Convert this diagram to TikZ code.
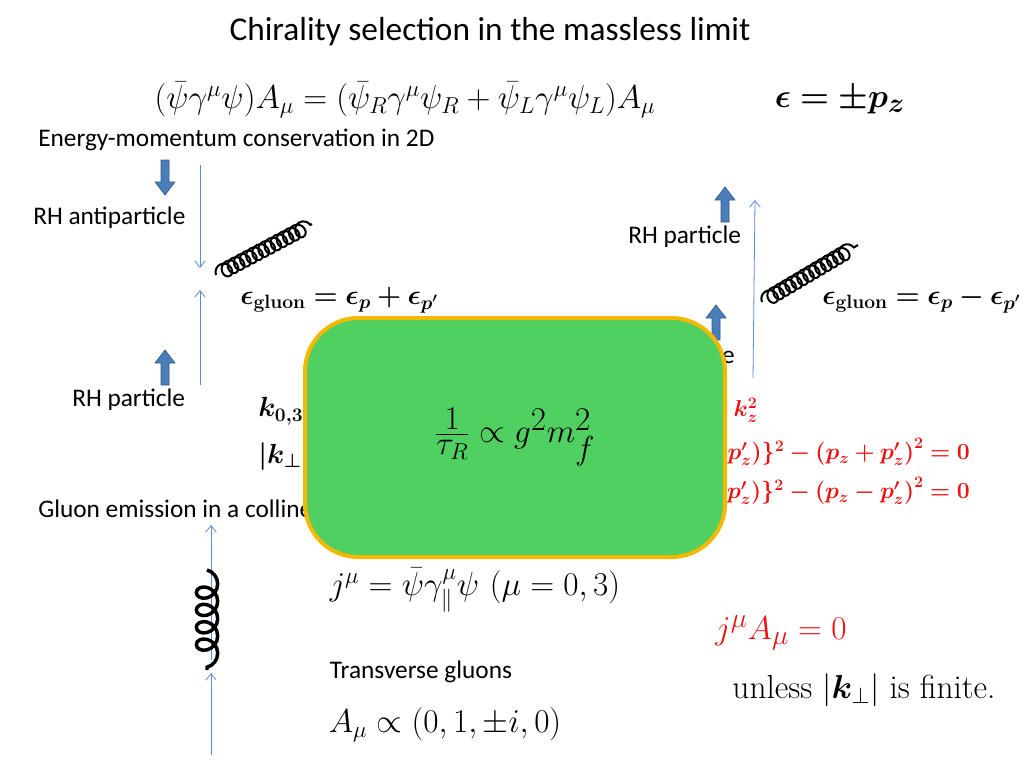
\documentclass[tikz,border=0pt]{standalone}
\usepackage{fontspec}
\usepackage{amsmath,bm}
\setsansfont{Carlito}
\usetikzlibrary{decorations.pathmorphing,arrows.meta}
\definecolor{barrow}{HTML}{4A7EBB}
\definecolor{thinl}{HTML}{5B8BD0}
\definecolor{boxg}{HTML}{50D060}
\definecolor{boxo}{HTML}{F5B800}
\definecolor{redt}{HTML}{EE1111}
\tikzset{
  lbl/.style={font=\sffamily\fontsize{19}{22}\selectfont,inner sep=0pt},
  eq/.style={font=\fontsize{26}{30}\selectfont,inner sep=0pt},
  eqs/.style={font=\fontsize{19.5}{23}\selectfont,inner sep=0pt},
  eqr/.style={font=\fontsize{18}{22}\selectfont,inner sep=0pt,text=redt},
  thin line/.style={draw=thinl,line width=0.6pt,-{Straight Barb[length=5pt,width=8pt]}},
  gluon/.style={decorate,decoration={coil,aspect=0.9,segment length=5.2pt,amplitude=5.5pt},line width=1.5pt},
  gluonb/.style={decorate,decoration={coil,aspect=0.9,segment length=13pt,amplitude=8pt},line width=2.6pt},
}
\newcommand{\bup}[2]{\fill[barrow,draw=barrow!70!black,line width=0.5pt] (#1-4,#2) -- (#1+4,#2) -- (#1+4,#2-22) -- (#1+10,#2-22) -- (#1,#2-35) -- (#1-10,#2-22) -- (#1-4,#2-22) -- cycle;}
\newcommand{\bdown}[2]{\fill[barrow,draw=barrow!70!black,line width=0.5pt] (#1-4,#2) -- (#1+4,#2) -- (#1+4,#2+22) -- (#1+10,#2+22) -- (#1,#2+35) -- (#1-10,#2+22) -- (#1-4,#2+22) -- cycle;}
\begin{document}
\begin{tikzpicture}[x=0.75pt,y=-0.75pt]
\useasboundingbox (0,0) rectangle (1024,768);
\node[lbl,font=\sffamily\fontsize{25}{30}\selectfont] (title) at (490,32) {Chirality selection in the massless limit};
\node[eq] (maineq) at (405,100) {$(\bar\psi\gamma^\mu\psi)A_\mu=(\bar\psi_R\gamma^\mu\psi_R+\bar\psi_L\gamma^\mu\psi_L)A_\mu$};
\node[eq,font=\fontsize{27.5}{32}\selectfont] (eps) at (840,100) {$\bm{\epsilon=\pm p_z}$};
\node[lbl,anchor=west] (emc) at (38,140) {Energy-momentum conservation in 2D};
% block arrows
\bdown{165}{160}
\bup{165}{385}
\bup{725}{222}
\bup{716}{340}
% labels
\node[lbl,anchor=west] (rha) at (33,218) {RH antiparticle};
\node[lbl,anchor=west] (rhp1) at (628,237) {RH particle};
\node[lbl,anchor=west] (rhp2) at (72,400) {RH particle};
\node[lbl,anchor=east] (rhp3) at (735,357) {RH particle};
\node[lbl,anchor=west] (glem) at (38,509) {Gluon emission in a collinear direction};
% thin lines
\coordinate (a1) at (200,165); \coordinate (a2) at (200,268);
\coordinate (b1) at (200,385); \coordinate (b2) at (200,290);
\coordinate (c1) at (753,378); \coordinate (c2) at (755,200);
\coordinate (d1) at (211,755); \coordinate (d2) at (211,673);
\coordinate (e1) at (211,660); \coordinate (e2) at (211,525);
\draw[thin line] (a1) -- (a2);
\draw[thin line] (b1) -- (b2);
\draw[thin line] (c1) -- (c2);
\draw[thin line] (d1) -- (d2);
\draw[thin line] (e1) -- (e2);
% gluons
\coordinate (g1a) at (216,275); \coordinate (g1b) at (312,224);
\coordinate (g2a) at (762,302); \coordinate (g2b) at (858,245);
\coordinate (g3a) at (207,570); \coordinate (g3b) at (207,670);
\draw[gluon] (g1a) -- (g1b);
\draw[gluon] (g2a) -- (g2b);
\draw[gluonb] (g3a) -- (g3b);
\node[eqs,anchor=west] (eg1) at (240,300) {$\bm{\epsilon_{\mathbf{gluon}}=\epsilon_p+\epsilon_{p'}}$};
\node[eqs,anchor=west] (eg2) at (822,300) {$\bm{\epsilon_{\mathbf{gluon}}=\epsilon_p-\epsilon_{p'}}$};
% hidden texts
\node[eq,font=\fontsize{22}{26}\selectfont,anchor=west] (k03) at (258,412) {$\bm{k_{0,3}=\epsilon_p\pm\epsilon_{p'}}$};
\node[eq,font=\fontsize{22}{26}\selectfont,anchor=west] (kperp) at (258,456) {$\bm{|k_\perp|^2=k_0^2-k_z^2}$};
\node[eqr,anchor=east] (kz) at (758,410) {$\bm{k_0^2-k_z^2}$};
\node[eqr,anchor=east] (r1) at (970,453) {$\bm{\{(\epsilon_p+\epsilon_{p'})\}^2=\{(p_z+p'_z)\}^2-(p_z+p'_z)^2=0}$};
\node[eqr,anchor=east] (r2) at (970,492) {$\bm{\{(\epsilon_p-\epsilon_{p'})\}^2=\{(p_z-p'_z)\}^2-(p_z-p'_z)^2=0}$};
% box
\draw[fill=boxg,draw=boxo,line width=3pt,rounded corners=40] (305,318) rectangle (725,557);
\node[eq,font=\fontsize{37}{42}\selectfont] (tau) at (515,437) {$\frac{1}{\tau_R}\propto g^2m_f^2$};
% bottom
\node[eq] (jmu) at (475,590) {$j^\mu=\bar\psi\gamma^\mu_\parallel\psi\ (\mu=0,3)$};
\node[eq,text=redt,font=\fontsize{32}{36}\selectfont] (jA) at (781,633) {$j^\mu A_\mu=0$};
\node[lbl] (tg) at (421,672) {Transverse gluons};
\node[eqs,font=\fontsize{25}{30}\selectfont] (unl) at (864,690) {unless $|\bm{k}_\perp|$ is finite.};
\node[eq] (Amu) at (445,725) {$A_\mu\propto(0,1,\pm i,0)$};
\end{tikzpicture}
\end{document}
